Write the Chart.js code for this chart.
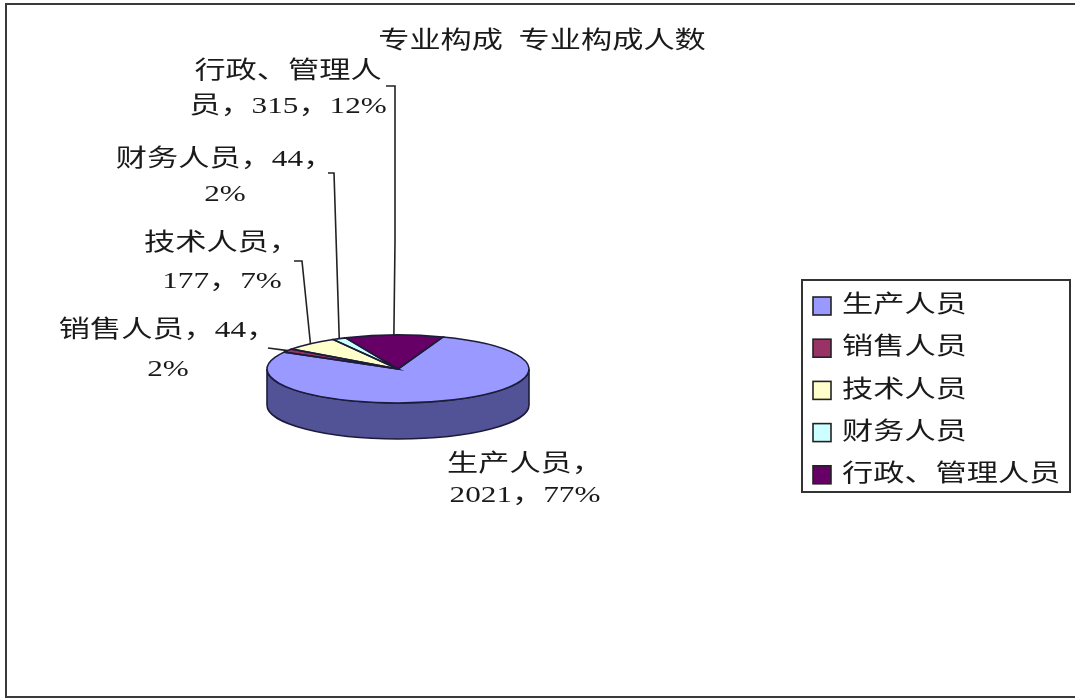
<!DOCTYPE html>
<html><head><meta charset="utf-8">
<script src="https://cdn.jsdelivr.net/npm/chart.js@4.4.0/dist/chart.umd.min.js"></script>
<style>html,body{margin:0;padding:0;background:#fff;}canvas{display:block;}</style>
</head><body>
<canvas id="c" width="1075" height="700"></canvas>
<script>
// ---- data ----
const categories = ['生产人员', '销售人员', '技术人员', '财务人员', '行政、管理人员'];
const counts = [2021, 44, 177, 44, 315];
const percents = [77, 2, 7, 2, 12];
const titleText = '专业构成  专业构成人数';

// ---- style / layout ----
const topColors = ['#9999FF', '#993366', '#FFFFCC', '#CCFFFF', '#660066'];
const sideColors = ['#525296', '#5c1f3d', '#99997a', '#7a9999', '#3d003d'];
const FONT = '24px "Liberation Serif", "Noto Sans CJK SC", serif';
const SX = 1.3;          // horizontal stretch of the text
const FLAT = 34 / 131;   // vertical squash of the pie
const DEPTH = 36;        // thickness of the 3D pie
const EDGE = '#1c1c3a';
const labelLayout = [
  { brk: 5, x: 525, y: [465, 496], leader: null },
  { brk: 8, x: 168, y: [331, 370], leader: [[268, 348]] },
  { brk: 5, x: 222, y: [244, 282], leader: [[294, 261], [302, 261]] },
  { brk: 8, x: 225, y: [160, 195], leader: [[328, 173], [334, 173]] },
  { brk: 6, x: 288, y: [72, 107], leader: [[386, 86], [395, 86], [395, 242]] }
];

function txt(ctx, s, x, y, align) {
  ctx.save();
  ctx.translate(x, y);
  ctx.scale(SX, 1);
  ctx.font = FONT;
  ctx.fillStyle = '#1a1a1a';
  ctx.textAlign = align;
  ctx.textBaseline = 'middle';
  ctx.fillText(s, 0, 0);
  ctx.restore();
}

function geom(arc) {
  const p = arc.getProps(['x', 'y', 'startAngle', 'endAngle', 'outerRadius'], true);
  return { cx: p.x, cy: p.y, a0: p.startAngle, a1: p.endAngle, rx: p.outerRadius, ry: p.outerRadius * FLAT };
}

function frontPieces(a0, a1) {
  const out = [];
  for (let k = -2; k <= 2; k++) {
    const s = Math.max(a0, 2 * Math.PI * k), e = Math.min(a1, 2 * Math.PI * k + Math.PI);
    if (e > s) out.push([s, e]);
  }
  return out;
}

const pie3d = {
  id: 'pie3d',
  beforeDatasetsDraw(chart) {
    const ctx = chart.ctx;
    const arcs = chart.getDatasetMeta(0).data;
    arcs.forEach((arc, i) => {
      const g = geom(arc);
      frontPieces(g.a0, g.a1).forEach(([s, e]) => {
        ctx.beginPath();
        ctx.ellipse(g.cx, g.cy, g.rx, g.ry, 0, s, e, false);
        ctx.ellipse(g.cx, g.cy + DEPTH, g.rx, g.ry, 0, e, s, true);
        ctx.closePath();
        ctx.fillStyle = sideColors[i];
        ctx.fill();
        ctx.lineWidth = 1.6;
        ctx.strokeStyle = EDGE;
        ctx.stroke();
      });
    });
    const g0 = geom(arcs[0]);
    ctx.save();
    ctx.translate(g0.cx, g0.cy);
    ctx.scale(1, FLAT);
    ctx.translate(-g0.cx, -g0.cy);
  },
  afterDatasetsDraw(chart) {
    const ctx = chart.ctx;
    ctx.restore();
    const arcs = chart.getDatasetMeta(0).data;
    arcs.forEach((arc) => {
      const g = geom(arc);
      ctx.beginPath();
      ctx.moveTo(g.cx, g.cy);
      ctx.ellipse(g.cx, g.cy, g.rx, g.ry, 0, g.a0, g.a1, false);
      ctx.closePath();
      ctx.lineWidth = 1.6;
      ctx.strokeStyle = EDGE;
      ctx.stroke();
    });
  },
  afterDraw(chart) {
    const ctx = chart.ctx;
    const arcs = chart.getDatasetMeta(0).data;
    arcs.forEach((arc, i) => {
      const L = labelLayout[i];
      const g = geom(arc);
      const full = categories[i] + '，' + counts[i] + '，' + percents[i] + '%';
      const l1 = full.slice(0, L.brk), l2 = full.slice(L.brk);
      txt(ctx, l1, L.x, L.y[0], 'center');
      txt(ctx, l2, L.x, L.y[1], 'center');
      if (L.leader) {
        const m = (g.a0 + g.a1) / 2;
        const rim = [g.cx + g.rx * Math.cos(m), g.cy + g.ry * Math.sin(m)];
        const pts = L.leader.concat([rim]);
        ctx.beginPath();
        ctx.moveTo(pts[0][0], pts[0][1]);
        for (let k = 1; k < pts.length; k++) ctx.lineTo(pts[k][0], pts[k][1]);
        ctx.lineWidth = 1.6;
        ctx.strokeStyle = '#222';
        ctx.stroke();
      }
    });
    txt(ctx, titleText, 542, 42, 'center');
    ctx.lineWidth = 2;
    ctx.strokeStyle = '#333';
    ctx.strokeRect(802, 280, 268, 212);
    categories.forEach((c, i) => {
      const yc = 306 + i * 42.2;
      ctx.fillStyle = topColors[i];
      ctx.fillRect(813, yc - 9, 18, 18);
      ctx.lineWidth = 1.6;
      ctx.strokeStyle = '#222';
      ctx.strokeRect(813, yc - 9, 18, 18);
      txt(ctx, c, 842, yc, 'left');
    });
    ctx.lineWidth = 2;
    ctx.strokeStyle = '#3a3a3a';
    ctx.strokeRect(6, 4, 1080, 693);
  }
};

new Chart(document.getElementById('c'), {
  type: 'pie',
  data: {
    labels: categories,
    datasets: [{
      data: counts,
      backgroundColor: topColors,
      borderWidth: 0,
      clip: false
    }]
  },
  options: {
    responsive: false,
    animation: false,
    devicePixelRatio: 1,
    rotation: 20,
    layout: { padding: { left: 267, right: 546, top: 238, bottom: 200 } },
    plugins: { legend: { display: false }, tooltip: { enabled: false } },
    events: []
  },
  plugins: [pie3d]
});
</script>
</body></html>
